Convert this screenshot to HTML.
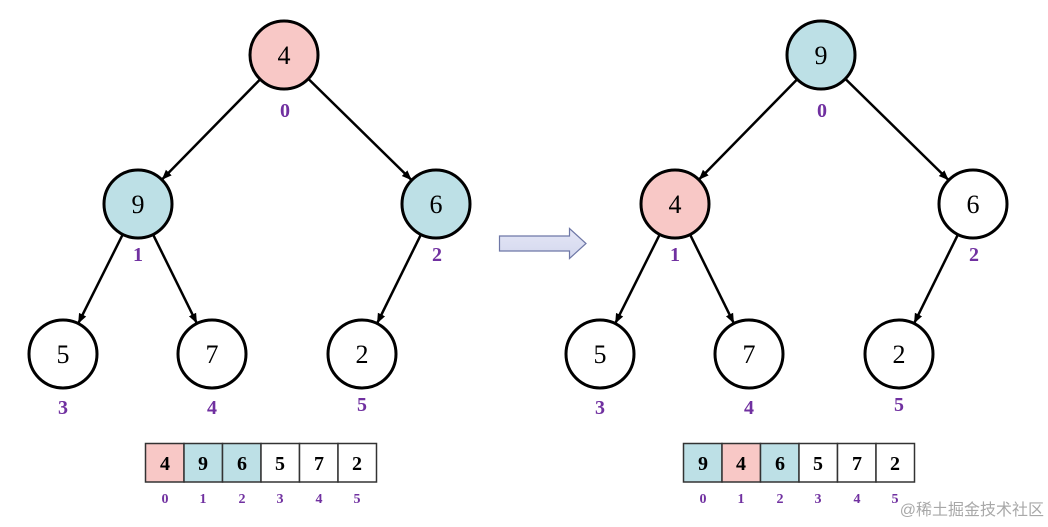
<!DOCTYPE html>
<html><head><meta charset="utf-8"><style>
html,body{margin:0;padding:0;background:#fff;}
svg{display:block}
</style></head><body>
<svg width="1048" height="527" viewBox="0 0 1048 527" xmlns="http://www.w3.org/2000/svg">
<defs>
<marker id="ah" markerWidth="10" markerHeight="10" refX="9" refY="5" orient="auto" markerUnits="userSpaceOnUse">
<path d="M0,1 L10,5 L0,9 z" fill="#000"/>
</marker>
<linearGradient id="ag" x1="0" y1="0" x2="0" y2="1"><stop offset="0" stop-color="#e4e6f6"/><stop offset="1" stop-color="#d4d8ee"/></linearGradient>
<g id="edges" stroke="#000" stroke-width="2.5" marker-end="url(#ah)">
<line x1="259.5" y1="80" x2="162.5" y2="179"/>
<line x1="309" y1="79.5" x2="411" y2="179.5"/>
<line x1="122.3" y1="235.3" x2="78.6" y2="322.7"/>
<line x1="153.5" y1="235.4" x2="196.5" y2="322.6"/>
<line x1="420.5" y1="235.4" x2="377.5" y2="322.6"/>
</g>
</defs>
<g font-family="Liberation Serif, serif">
<!-- left tree -->
<use href="#edges"/>
<g stroke="#000" stroke-width="3">
<circle cx="284" cy="55" r="34" fill="#f8c8c6"/>
<circle cx="138" cy="204" r="34" fill="#bde0e6"/>
<circle cx="436" cy="204" r="34" fill="#bde0e6"/>
<circle cx="63" cy="354" r="34" fill="#fff"/>
<circle cx="212" cy="354" r="34" fill="#fff"/>
<circle cx="362" cy="354" r="34" fill="#fff"/>
</g>
<g font-size="26" text-anchor="middle" fill="#000">
<text x="284" y="64">4</text><text x="138" y="213">9</text><text x="436" y="213">6</text>
<text x="63" y="363">5</text><text x="212" y="363">7</text><text x="362" y="363">2</text>
</g>
<g font-size="20" font-weight="bold" text-anchor="middle" fill="#7030a0">
<text x="285" y="117">0</text><text x="138" y="261">1</text><text x="437" y="261">2</text>
<text x="63" y="414">3</text><text x="212" y="414">4</text><text x="362" y="411">5</text>
</g>
<!-- right tree -->
<g transform="translate(537,0)"><use href="#edges"/></g>
<g stroke="#000" stroke-width="3">
<circle cx="821" cy="55" r="34" fill="#bde0e6"/>
<circle cx="675" cy="204" r="34" fill="#f8c8c6"/>
<circle cx="973" cy="204" r="34" fill="#fff"/>
<circle cx="600" cy="354" r="34" fill="#fff"/>
<circle cx="749" cy="354" r="34" fill="#fff"/>
<circle cx="899" cy="354" r="34" fill="#fff"/>
</g>
<g font-size="26" text-anchor="middle" fill="#000">
<text x="821" y="64">9</text><text x="675" y="213">4</text><text x="973" y="213">6</text>
<text x="600" y="363">5</text><text x="749" y="363">7</text><text x="899" y="363">2</text>
</g>
<g font-size="20" font-weight="bold" text-anchor="middle" fill="#7030a0">
<text x="822" y="117">0</text><text x="675" y="261">1</text><text x="974" y="261">2</text>
<text x="600" y="414">3</text><text x="749" y="414">4</text><text x="899" y="411">5</text>
</g>
<!-- arrow -->
<path d="M499.5,236 L569.5,236 L569.5,228.5 L586,243.5 L569.5,258.5 L569.5,251 L499.5,251 Z" fill="url(#ag)" stroke="#6e77a6" stroke-width="1.2"/>
<!-- left array -->
<g stroke="#333" stroke-width="1.5">
<rect x="145.5" y="443.5" width="38.5" height="38.5" fill="#f8c8c6"/>
<rect x="184" y="443.5" width="38.5" height="38.5" fill="#bde0e6"/>
<rect x="222.5" y="443.5" width="38.5" height="38.5" fill="#bde0e6"/>
<rect x="261" y="443.5" width="38.5" height="38.5" fill="#fff"/>
<rect x="299.5" y="443.5" width="38.5" height="38.5" fill="#fff"/>
<rect x="338" y="443.5" width="38.5" height="38.5" fill="#fff"/>
</g>
<g font-size="20" font-weight="bold" text-anchor="middle" fill="#000">
<text x="165" y="470">4</text><text x="203" y="470">9</text><text x="242" y="470">6</text>
<text x="280" y="470">5</text><text x="319" y="470">7</text><text x="357" y="470">2</text>
</g>
<g font-size="14" font-weight="bold" text-anchor="middle" fill="#7030a0">
<text x="165" y="503">0</text><text x="203" y="503">1</text><text x="242" y="503">2</text>
<text x="280" y="503">3</text><text x="319" y="503">4</text><text x="357" y="503">5</text>
</g>
<!-- right array -->
<g stroke="#333" stroke-width="1.5">
<rect x="683.5" y="443.5" width="38.5" height="38.5" fill="#bde0e6"/>
<rect x="722" y="443.5" width="38.5" height="38.5" fill="#f8c8c6"/>
<rect x="760.5" y="443.5" width="38.5" height="38.5" fill="#bde0e6"/>
<rect x="799" y="443.5" width="38.5" height="38.5" fill="#fff"/>
<rect x="837.5" y="443.5" width="38.5" height="38.5" fill="#fff"/>
<rect x="876" y="443.5" width="38.5" height="38.5" fill="#fff"/>
</g>
<g font-size="20" font-weight="bold" text-anchor="middle" fill="#000">
<text x="703" y="470">9</text><text x="741" y="470">4</text><text x="780" y="470">6</text>
<text x="818" y="470">5</text><text x="857" y="470">7</text><text x="895" y="470">2</text>
</g>
<g font-size="14" font-weight="bold" text-anchor="middle" fill="#7030a0">
<text x="703" y="503">0</text><text x="741" y="503">1</text><text x="780" y="503">2</text>
<text x="818" y="503">3</text><text x="857" y="503">4</text><text x="895" y="503">5</text>
</g>
</g>
<text x="1044" y="515" text-anchor="end" font-size="16" fill="#a8a8a8" font-family="Liberation Sans, Noto Sans CJK SC, sans-serif">@稀土掘金技术社区</text>
</svg>
</body></html>
